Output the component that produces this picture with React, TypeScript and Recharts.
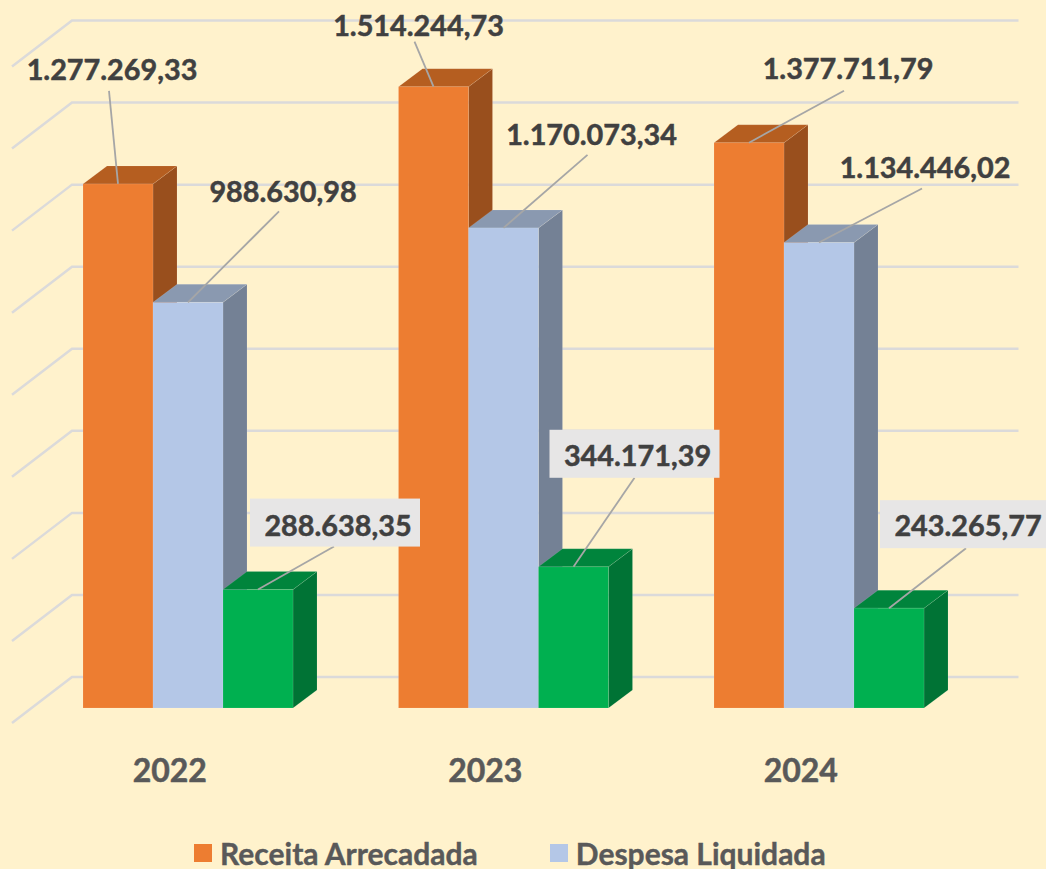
import { BarChart, Bar, XAxis, YAxis, CartesianGrid, LabelList, Legend } from 'recharts'

const YEARS = ['2022', '2023', '2024']
const RECEITA = [1277269.33, 1514244.73, 1377711.79]
const DESPESA = [988630.98, 1170073.34, 1134446.02]
const SALDO = [288638.35, 344171.39, 243265.77]
const Y_TICKS = [0, 200000, 400000, 600000, 800000, 1000000, 1200000, 1400000, 1600000]
const LEGEND_NAMES = ['Receita Arrecadada', 'Despesa Liquidada']

const data = YEARS.map((year, i) => ({
  year,
  receita: RECEITA[i],
  despesa: DESPESA[i],
  saldo: SALDO[i],
}))

const FONT = 'Lato, sans-serif'
const GRID = '#DBDADA'
const DEPTH_X = 24
const DEPTH_Y = 18

// label placement relative to the top centre of each bar: text centre and where the leader starts
const RECEITA_LABELS = [
  { tx: -6, ty: -115, lx: -9, ly: -93 },
  { tx: -15, ty: -62, lx: -19, ly: -45 },
  { tx: 99, ty: -75, lx: 95, ly: -52 },
]
const DESPESA_LABELS = [
  { tx: 95, ty: -111, lx: 91, ly: -91 },
  { tx: 88, ty: -94, lx: 84, ly: -73 },
  { tx: 106, ty: -76, lx: 103, ly: -54 },
]
const SALDO_LABELS = [
  { tx: 80, ty: -65, lx: 76, ly: -43, bx: -8, bw: 170, by: -91 },
  { tx: 64, ty: -112, lx: 61, ly: -89, bx: -24, bw: 170, by: -137 },
  { tx: 79, ty: -83, lx: 77, ly: -60, bx: -9, bw: 180, by: -108 },
]

const Bar3D = ({ x, y, width, height, fill, top, side }: any) => {
  const r = x + width
  const b = y + height
  const edge = { stroke: '#fff', strokeOpacity: 0.1, strokeWidth: 1 }
  return (
    <g>
      <polygon
        points={`${r},${y} ${r + DEPTH_X},${y - DEPTH_Y} ${r + DEPTH_X},${b - DEPTH_Y} ${r},${b}`}
        fill={side}
        {...edge}
      />
      <polygon
        points={`${x},${y} ${x + DEPTH_X},${y - DEPTH_Y} ${r + DEPTH_X},${y - DEPTH_Y} ${r},${y}`}
        fill={top}
        {...edge}
      />
      <rect x={x} y={y} width={width} height={height} fill={fill} {...edge} />
    </g>
  )
}

const formatValue = (v: number) =>
  v.toLocaleString('pt-BR', { minimumFractionDigits: 2, maximumFractionDigits: 2 })

const callout = (places: any[]) => (props: any) => {
  const { x, y, width, value, index } = props
  const p = places[index]
  const cx = x + width / 2
  return (
    <g>
      <line x1={cx + p.lx} y1={y + p.ly} x2={cx} y2={y} stroke="#A6A6A6" strokeWidth={1.8} />
      {p.bw && <rect x={cx + p.bx} y={y + p.by} width={p.bw} height={48} fill="#E7E6E6" />}
      <text
        x={cx + p.tx}
        y={y + p.ty}
        textAnchor="middle"
        dominantBaseline="central"
        fontFamily={FONT}
        fontWeight={700}
        fontSize={28.8}
        fill="#404040"
        stroke="#404040"
        strokeWidth={0.5}
      >
        {formatValue(value)}
      </text>
    </g>
  )
}

// 3D wall: the gridline sits on the back wall and runs down the left side
const WallLine = ({ x1, x2, y1 }: any) => {
  const back = y1 - 31
  return (
    <polyline
      points={`${x1 - 18},${back + 46} ${x1 + 42},${back} ${x2 + 42},${back}`}
      fill="none"
      stroke={GRID}
      strokeWidth={2.5}
    />
  )
}

const YearTick = ({ x, y, payload }: any) => (
  <text
    x={x - 18}
    y={y + 53}
    textAnchor="middle"
    dominantBaseline="central"
    fontFamily={FONT}
    fontWeight={700}
    fontSize={32}
    fill="#595959"
    stroke="#595959"
    strokeWidth={0.5}
  >
    {payload.value}
  </text>
)

const LegendRow = ({ payload }: any) => (
  <div style={{ display: 'flex', paddingLeft: 194, gap: 72, whiteSpace: 'nowrap' }}>
    {LEGEND_NAMES.map((name) => {
      const entry = (payload || []).find((e: any) => e.value === name)
      return (
        <div key={name} style={{ display: 'flex', alignItems: 'center' }}>
          <span style={{ width: 18, height: 18, background: entry?.color, marginRight: 8 }} />
          <span
            style={{
              fontFamily: FONT,
              fontWeight: 700,
              fontSize: 30,
              color: '#595959',
              lineHeight: '32px',
              WebkitTextStroke: '0.4px #595959',
            }}
          >
            {name}
          </span>
        </div>
      )
    })}
  </div>
)

export default function App() {
  return (
    <div
      style={{
        position: 'absolute',
        left: 0,
        top: 0,
        width: 1046,
        height: 869,
        overflow: 'hidden',
        background: '#FFF2CC',
      }}
    >
      <BarChart
        width={1046}
        height={869}
        data={data}
        margin={{ top: 51.5, right: 69.5, bottom: 101, left: 30 }}
        barSize={70}
        barGap={0}
      >
        <CartesianGrid vertical={false} horizontal={(props: any) => <WallLine key={props.index} {...props} />} />
        <XAxis dataKey="year" height={60} axisLine={false} tickLine={false} tick={<YearTick />} interval={0} />
        <YAxis hide domain={[0, 1600000]} ticks={Y_TICKS} />
        <Legend
          layout="horizontal"
          verticalAlign="middle"
          align="center"
          content={<LegendRow />}
          wrapperStyle={{ left: 0, top: 837, width: 1046 }}
        />
        <Bar
          dataKey="receita"
          name="Receita Arrecadada"
          fill="#ED7D31"
          isAnimationActive={false}
          shape={(p: any) => <Bar3D {...p} top="#B55E20" side="#994F1D" />}
        >
          <LabelList content={callout(RECEITA_LABELS)} />
        </Bar>
        <Bar
          dataKey="despesa"
          name="Despesa Liquidada"
          fill="#B4C7E7"
          isAnimationActive={false}
          shape={(p: any) => <Bar3D {...p} top="#8A99B0" side="#748195" />}
        >
          <LabelList content={callout(DESPESA_LABELS)} />
        </Bar>
        <Bar
          dataKey="saldo"
          name="Saldo"
          fill="#00B050"
          legendType="none"
          isAnimationActive={false}
          shape={(p: any) => <Bar3D {...p} top="#00843C" side="#007335" />}
        >
          <LabelList content={callout(SALDO_LABELS)} />
        </Bar>
      </BarChart>
    </div>
  )
}
